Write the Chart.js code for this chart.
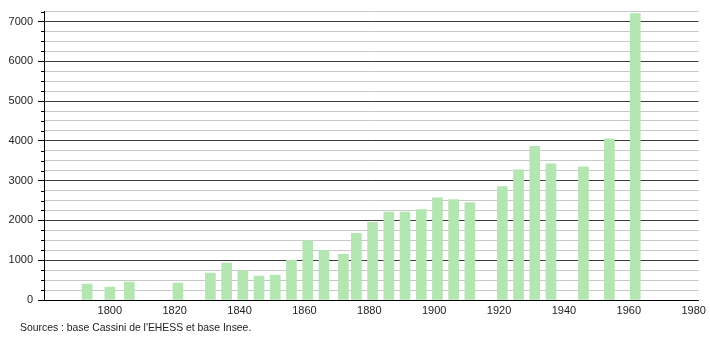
<!DOCTYPE html>
<html>
<head>
<meta charset="utf-8">
<script src="https://cdn.jsdelivr.net/npm/chart.js@4"></script>
<style>
  html, body { margin: 0; padding: 0; background: #fff; }
  #wrap { position: relative; width: 710px; height: 340px; }
  #c { position: absolute; left: 0; top: 0; }
  #src { position: absolute; left: 20px; top: 322px; font: 10.4px "Liberation Sans", Arial, sans-serif; color: #222; white-space: nowrap; }
</style>
</head>
<body>
<div id="wrap">
  <canvas id="c" width="710" height="340"></canvas>
  <div id="src">Sources : base Cassini de l'EHESS et base Insee.</div>
</div>
<script>
const years = [1793, 1800, 1806, 1821, 1831, 1836, 1841, 1846, 1851, 1856, 1861, 1866, 1872, 1876, 1881, 1886, 1891, 1896, 1901, 1906, 1911, 1921, 1926, 1931, 1936, 1946, 1954, 1962];
const population = [400, 325, 450, 425, 675, 925, 740, 600, 625, 1000, 1490, 1250, 1150, 1675, 1950, 2210, 2210, 2275, 2570, 2525, 2450, 2850, 3275, 3865, 3420, 3350, 4050, 7200];
const xTicks = [1800, 1820, 1840, 1860, 1880, 1900, 1920, 1940, 1960, 1980];
const yTicks = [];
for (let v = 0; v <= 7250; v += 250) yTicks.push(v);

const FONT = { family: '"Liberation Sans", Arial, sans-serif', size: 11 };

const minorTicks = {
  id: 'minorTicks',
  afterDraw(chart) {
    const y = chart.scales.y, ctx = chart.ctx;
    ctx.save();
    ctx.strokeStyle = '#000';
    ctx.lineWidth = 1;
    yTicks.forEach(v => {
      if (v % 1000 === 0) return;
      const p = Math.round(y.getPixelForValue(v)) + 0.5;
      ctx.beginPath();
      ctx.moveTo(y.right - 3, p);
      ctx.lineTo(y.right, p);
      ctx.stroke();
    });
    ctx.restore();
  }
};

new Chart(document.getElementById('c'), {
  type: 'bar',
  data: {
    datasets: [{
      data: years.map((yr, i) => ({ x: yr, y: population[i] })),
      backgroundColor: '#b3e6b1',
      borderWidth: 0,
      barThickness: 10
    }]
  },
  options: {
    responsive: false,
    animation: false,
    layout: { padding: { top: 10, right: 10, left: 0, bottom: 18 } },
    plugins: { legend: { display: false }, tooltip: { enabled: false } },
    scales: {
      x: {
        type: 'linear',
        offset: false,
        min: 1779.7,
        max: 1981.5,
        afterBuildTicks: s => { s.ticks = xTicks.map(v => ({ value: v })); },
        afterFit: s => { s.height = 22; },
        grid: { display: false, drawTicks: false, offset: false },
        border: { display: true, color: '#000', width: 1 },
        ticks: { font: FONT, color: '#222', padding: 4, maxRotation: 0, autoSkip: false, callback: v => String(v) }
      },
      y: {
        type: 'linear',
        min: 0,
        max: 7250,
        afterBuildTicks: s => { s.ticks = yTicks.map(v => ({ value: v })); },
        afterFit: s => { s.width = 44; },
        grid: {
          color: ctx => (ctx.tick && ctx.tick.value % 1000 === 0) ? '#3a3a3a' : '#c8c8c8',
          tickColor: ctx => (ctx.tick && ctx.tick.value % 1000 === 0) ? '#000' : 'rgba(0,0,0,0)',
          tickLength: 6,
          lineWidth: 1
        },
        border: { display: true, color: '#000', width: 1 },
        ticks: {
          font: FONT, color: '#222', padding: 5, autoSkip: false,
          callback: v => (v % 1000 === 0 ? String(v) : '')
        }
      }
    }
  },
  plugins: [minorTicks]
});
</script>
</body>
</html>
